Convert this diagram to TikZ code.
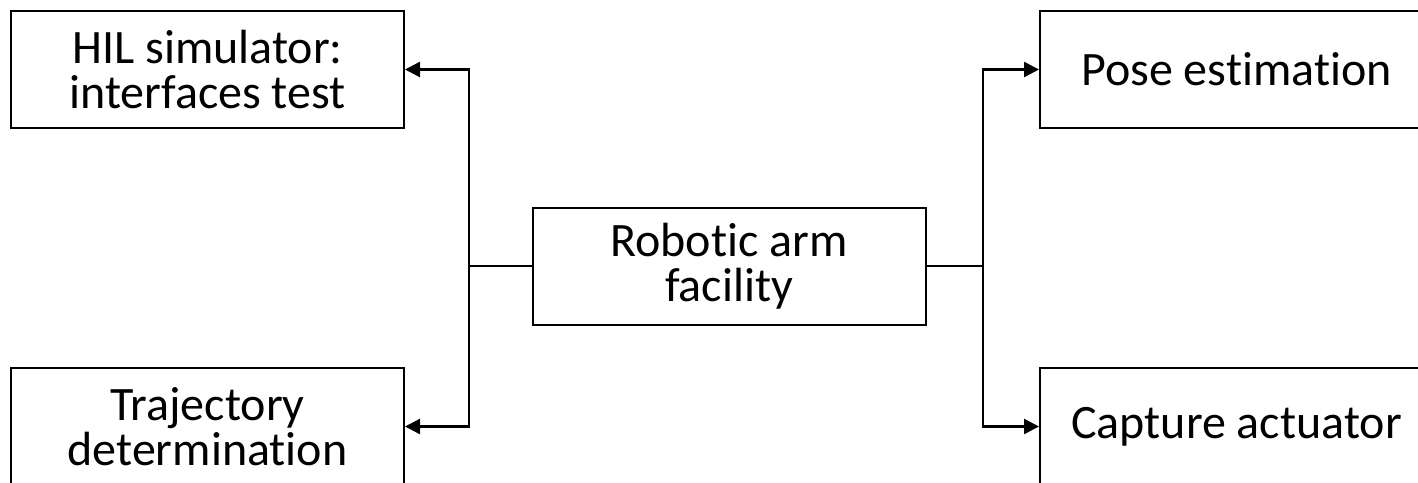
\documentclass[tikz,border=0pt]{standalone}
\usepackage{fontspec}
\setmainfont{Carlito}[Ligatures=NoCommon]
\usetikzlibrary{positioning, arrows.meta}

\begin{document}
\begin{tikzpicture}[x=0.5pt, y=-0.5pt,
  blk/.style={draw, line width=1pt, minimum width=196.5pt, minimum height=58.5pt, align=center, inner sep=0pt, font=\fontsize{24}{22.5}\selectfont},
  conn/.style={line width=1.2pt},
  arr/.style={conn, -{Triangle[length=7.5pt, width=7.5pt]}}]
\useasboundingbox (0,0) rectangle (1418,482);
\clip (0,0) rectangle (1418,482);
\node[blk] (hil) at (207.5,69.5) {HIL simulator:\\interfaces test};
\node[blk] (traj) at (207.5,426.5) {Trajectory\\determination};
\node[blk] (robot) at (729,266) {Robotic arm\\facility};
\node[blk] (pose) at (1236.5,69.5) {Pose estimation};
\node[blk] (capt) at (1236.5,426.5) {Capture actuator};
\coordinate (lbus) at (469,266);
\coordinate (rbus) at (983,266);
\draw[conn] (robot.west) -- (lbus);
\draw[conn] (robot.east) -- (rbus);
\draw[arr] (lbus) |- (hil.east);
\draw[arr] (lbus) |- (traj.east);
\draw[arr] (rbus) |- (pose.west);
\draw[arr] (rbus) |- (capt.west);
\end{tikzpicture}
\end{document}
